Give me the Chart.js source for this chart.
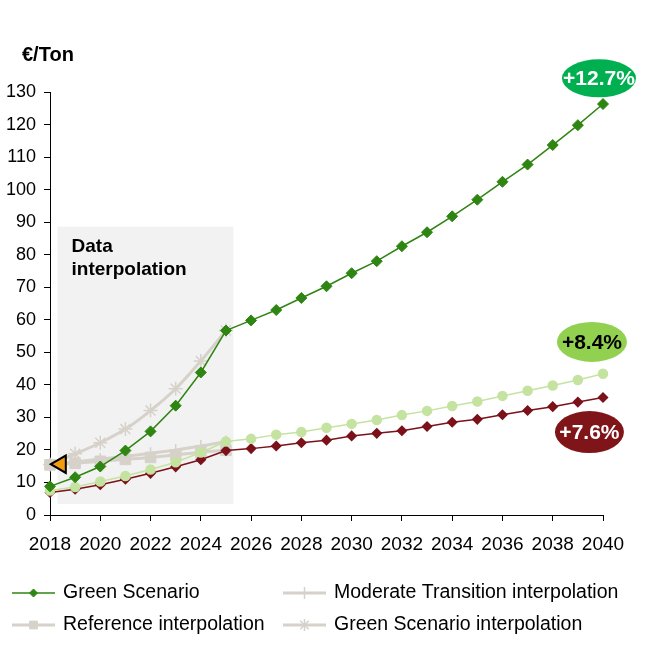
<!DOCTYPE html>
<html>
<head>
<meta charset="utf-8">
<script src="https://cdn.jsdelivr.net/npm/chart.js@4.4.1/dist/chart.umd.min.js"></script>
<style>
  html, body { margin: 0; padding: 0; background: #fff; }
  #wrap { width: 645px; height: 650px; }
</style>
</head>
<body>
<div id="wrap"><canvas id="chart" width="645" height="650"></canvas></div>
<script>
// Carbon price scenarios, EUR per ton
const years = [2018, 2019, 2020, 2021, 2022, 2023, 2024, 2025, 2026, 2027, 2028, 2029,
               2030, 2031, 2032, 2033, 2034, 2035, 2036, 2037, 2038, 2039, 2040];
const greenScenario = [8.8, 11.6, 14.9, 19.8, 25.7, 33.6, 43.8, 56.7, 59.8, 63.0, 66.7, 70.3,
                       74.3, 78.0, 82.6, 86.9, 91.8, 96.9, 102.4, 107.7, 113.7, 119.8, 126.3];
const moderateTransition = [7.5, 8.6, 10.3, 12.0, 14.0, 16.2, 19.2, 22.6, 23.4, 24.7, 25.5, 26.8,
                            28.0, 29.2, 30.7, 32.0, 33.5, 34.9, 36.6, 38.2, 39.8, 41.5, 43.4];
const reference = [6.9, 7.9, 9.3, 11.0, 12.8, 14.8, 17.0, 19.8, 20.4, 21.2, 22.2, 23.0,
                   24.3, 25.1, 25.9, 27.2, 28.5, 29.4, 30.8, 32.1, 33.3, 34.7, 36.1];

// interpolation period 2018-2025
const interpYears = [2018, 2019, 2020, 2021, 2022, 2023, 2024, 2025];
const moderateInterp = [15.5, 16.3, 17.2, 18.0, 19.0, 20.0, 21.2, 22.6];
const referenceInterp = [15.4, 15.9, 16.5, 17.1, 17.7, 18.5, 19.3, 19.9];
const greenInterp = [15.5, 18.8, 22.2, 26.4, 32.1, 38.8, 47.3, 56.7];

// current market price
const currentYear = [2018.43];
const currentPrice = [15.6];

const xTicks = [2018, 2040, 2];   // min, max, step
const yTicks = [0, 130, 10];

const growthLabels = ['+12.7%', '+8.4%', '+7.6%'];

const FONT = "'Liberation Sans', Arial, sans-serif";
const GREEN = '#2f8512';
const LIGHT = '#c5e3a0';
const RED = '#7b1119';
const GRAY = '#d6d2ca';

function pts(xs, ys) {
    return xs.map((x, i) => ({ x: x, y: ys[i] }));
}

// grey "Data interpolation" box
const shadePlugin = {
    id: 'shade',
    beforeDatasetsDraw(chart) {
        const { ctx, scales: { x, y } } = chart;
        const x0 = x.getPixelForValue(2018.3), x1 = x.getPixelForValue(2025.3);
        const y0 = y.getPixelForValue(88.6), y1 = y.getPixelForValue(3.4);
        ctx.save();
        ctx.fillStyle = '#f2f2f2';
        ctx.fillRect(x0, y0, x1 - x0, y1 - y0);
        ctx.fillStyle = '#000';
        ctx.font = 'bold 19px ' + FONT;
        ctx.textBaseline = 'alphabetic';
        ctx.fillText('Data', x0 + 14, 252);
        ctx.fillText('interpolation', x0 + 14, 275);
        ctx.restore();
    }
};

// unit, growth bubbles and legend
const extrasPlugin = {
    id: 'extras',
    afterDraw(chart) {
        const { ctx, scales: { x, y } } = chart;
        ctx.save();
        ctx.fillStyle = '#000';
        ctx.font = 'bold 20px ' + FONT;
        ctx.textBaseline = 'alphabetic';
        ctx.fillText('€/Ton', 22, 61);

        const bubbles = [
            { text: growthLabels[0], x: 2039.84, y: 134.2, rx: 37, ry: 19, fill: '#00b050', color: '#fff' },
            { text: growthLabels[1], x: 2039.56, y: 53.2, rx: 35, ry: 20, fill: '#92d050', color: '#000' },
            { text: growthLabels[2], x: 2039.46, y: 25.5, rx: 34.5, ry: 21, fill: '#7f1519', color: '#fff' }
        ];
        bubbles.forEach(b => {
            const cx = x.getPixelForValue(b.x), cy = y.getPixelForValue(b.y);
            ctx.beginPath();
            ctx.ellipse(cx, cy, b.rx, b.ry, 0, 0, Math.PI * 2);
            ctx.fillStyle = b.fill;
            ctx.fill();
            ctx.fillStyle = b.color;
            ctx.font = 'bold 21px ' + FONT;
            ctx.textAlign = 'center';
            ctx.textBaseline = 'middle';
            ctx.fillText(b.text, cx, cy + 1);
        });

        // legend, two columns
        const cols = [12, 283];
        const rows = [593, 625];
        const items = chart.data.datasets.filter(d => d.inLegend);
        items.forEach((d, i) => {
            const lx = cols[i % 2 === 0 ? 0 : 1];
            const ly = rows[Math.floor(i / 2)];
            ctx.beginPath();
            ctx.strokeStyle = d.borderColor;
            ctx.lineWidth = d.borderWidth;
            ctx.moveTo(lx, ly);
            ctx.lineTo(lx + 43, ly);
            ctx.stroke();
            ctx.fillStyle = d.pointBackgroundColor || d.borderColor;
            ctx.strokeStyle = d.pointBorderColor || d.borderColor;
            ctx.lineWidth = d.pointBorderWidth || 1;
            Chart.helpers.drawPoint(ctx, {
                pointStyle: d.pointStyle,
                radius: d.legendRadius,
                rotation: 0,
                borderWidth: d.pointBorderWidth || 1
            }, lx + 21.5, ly);
            ctx.fillStyle = '#000';
            ctx.font = '19.5px ' + FONT;
            ctx.textAlign = 'left';
            ctx.textBaseline = 'middle';
            ctx.fillText(d.label, lx + 51, ly);
        });
        ctx.restore();
    }
};

new Chart(document.getElementById('chart'), {
    type: 'line',
    data: {
        datasets: [
            {
                label: 'Current price',
                data: pts(currentYear, currentPrice),
                showLine: false,
                pointStyle: 'triangle',
                rotation: -90,
                pointRadius: 10,
                pointBackgroundColor: '#f39c12',
                pointBorderColor: '#000',
                pointBorderWidth: 2,
                order: 0
            },
            {
                label: 'Green Scenario',
                inLegend: true,
                data: pts(years, greenScenario),
                borderColor: GREEN,
                backgroundColor: GREEN,
                borderWidth: 1.5,
                pointStyle: 'rectRot',
                pointRadius: 5.5,
                legendRadius: 4,
                pointBackgroundColor: GREEN,
                pointBorderColor: GREEN,
                pointBorderWidth: 1,
                order: 1
            },
            {
                label: 'Moderate Transition interpolation',
                inLegend: true,
                data: pts(interpYears, moderateInterp),
                borderColor: GRAY,
                borderWidth: 3,
                tension: 0.3,
                pointStyle: 'cross',
                pointRadius: 6,
                legendRadius: 6,
                pointBorderColor: GRAY,
                pointBorderWidth: 1.5,
                order: 4
            },
            {
                label: 'Reference interpolation',
                inLegend: true,
                data: pts(interpYears, referenceInterp),
                borderColor: GRAY,
                borderWidth: 3,
                tension: 0.3,
                pointStyle: 'rect',
                pointRadius: 7.5,
                legendRadius: 5.5,
                pointBackgroundColor: GRAY,
                pointBorderColor: GRAY,
                pointBorderWidth: 1,
                order: 5
            },
            {
                label: 'Green Scenario interpolation',
                inLegend: true,
                data: pts(interpYears, greenInterp),
                borderColor: GRAY,
                borderWidth: 3,
                tension: 0.3,
                pointStyle: 'star',
                pointRadius: 7,
                legendRadius: 6,
                pointBorderColor: GRAY,
                pointBorderWidth: 1.5,
                order: 6
            },
            {
                label: 'Moderate Transition',
                data: pts(years, moderateTransition),
                borderColor: LIGHT,
                borderWidth: 1.5,
                pointStyle: 'circle',
                pointRadius: 4.5,
                pointBackgroundColor: LIGHT,
                pointBorderColor: LIGHT,
                order: 2
            },
            {
                label: 'Reference',
                data: pts(years, reference),
                borderColor: RED,
                borderWidth: 1.5,
                pointStyle: 'rectRot',
                pointRadius: 4.5,
                pointBackgroundColor: RED,
                pointBorderColor: RED,
                order: 3
            }
        ]
    },
    options: {
        responsive: false,
        devicePixelRatio: 1,
        animation: false,
        clip: false,
        layout: { padding: { left: 0, top: 92, right: 42, bottom: 85 } },
        plugins: {
            legend: { display: false },
            tooltip: { enabled: false }
        },
        scales: {
            x: {
                type: 'linear',
                min: xTicks[0],
                max: xTicks[1],
                afterFit(scale) { scale.height = 50; },
                ticks: {
                    stepSize: xTicks[2],
                    color: '#000',
                    padding: 12,
                    font: { family: FONT, size: 19 },
                    callback: v => String(v)
                },
                grid: { drawOnChartArea: false, drawTicks: true, tickLength: 6, color: '#000' },
                border: { display: true, color: '#000', width: 1 }
            },
            y: {
                min: yTicks[0],
                max: yTicks[1],
                afterFit(scale) { scale.width = 50; },
                ticks: {
                    stepSize: yTicks[2],
                    color: '#000',
                    padding: 8,
                    font: { family: FONT, size: 18 }
                },
                grid: { drawOnChartArea: false, drawTicks: true, tickLength: 6, color: '#000' },
                border: { display: true, color: '#000', width: 1 }
            }
        }
    },
    plugins: [shadePlugin, extrasPlugin]
});
</script>
</body>
</html>
